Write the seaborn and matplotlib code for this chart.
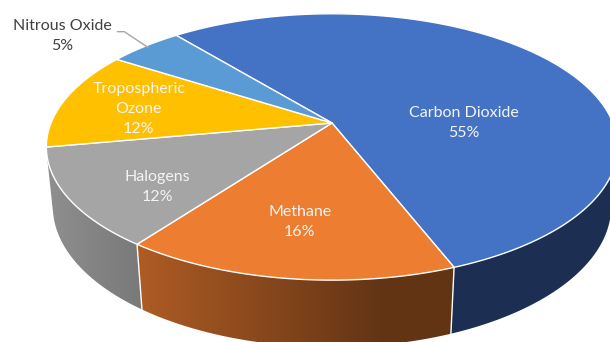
import numpy as np
import matplotlib
matplotlib.use("Agg")
import matplotlib.pyplot as plt
from matplotlib.patches import Polygon
import seaborn as sns

# Greenhouse gas shares
gases = ["Carbon Dioxide", "Methane", "Halogens", "Tropospheric\nOzone", "Nitrous Oxide"]
shares = [55, 16, 12, 12, 5]
top_colors = ["#4472C4", "#ED7D31", "#A5A5A5", "#FFC000", "#5B9BD5"]

sns.set_theme(style="white")
plt.rcParams["font.family"] = ["Lato", "DejaVu Sans"]

# 3-D view settings (world units: pie radius = 1)
elev = np.radians(27.3)
cam_dist = 4.94
thickness = 0.24
start_deg = -39.2          # clockwise from the back of the pie
scale = 1388.0
cx, cy = 332.0, 123.0
s_e, c_e = np.sin(elev), np.cos(elev)


def project(phi_deg, r=1.0, z=0.0):
    phi = np.radians(phi_deg)
    X = r * np.sin(phi)
    Y = r * np.cos(phi)
    depth = cam_dist + Y * c_e - z * s_e
    sx = X / depth
    sy = (Y * s_e + z * c_e) / depth
    return cx + scale * sx, cy - scale * sy


def shade(phi_deg):
    return 0.42 + 0.45 * np.maximum(0.0, np.cos(np.radians(phi_deg - 262.0)))


fig = plt.figure(figsize=(6.1, 3.42), dpi=100)
ax = fig.add_axes([0, 0, 1, 1])

bounds = start_deg + np.concatenate([[0], np.cumsum(shares)]) * 3.6

# side wall: only the arc facing the camera
limit = -1.0 / (cam_dist * c_e)
vis_lo = np.degrees(np.arccos(limit))          # ~103 deg
vis_hi = 360.0 - vis_lo                         # ~257 deg

# screen-x -> lighting lookup along the front rim
rim_angles = np.linspace(vis_lo, vis_hi, 600)
rim_x = np.array([project(a, z=-thickness / 2)[0] for a in rim_angles])
order = np.argsort(rim_x)
rim_x_sorted = rim_x[order]
rim_shade = shade(rim_angles)[order]

for i, col in enumerate(top_colors):
    lo = max(bounds[i], vis_lo)
    hi = min(bounds[i + 1], vis_hi)
    if hi <= lo:
        continue
    angs = np.linspace(lo, hi, 300)
    top = [project(a) for a in angs]
    bot = [project(a, z=-thickness) for a in angs[::-1]]
    poly = Polygon(top + bot, closed=True, facecolor="none", edgecolor="none")
    ax.add_patch(poly)
    xs = [p[0] for p in top + bot]
    ys = [p[1] for p in top + bot]
    x0, x1 = min(xs), max(xs)
    y0, y1 = min(ys), max(ys)
    cols_x = np.linspace(x0, x1, 400)
    f = np.interp(cols_x, rim_x_sorted, rim_shade)
    base = np.array(matplotlib.colors.to_rgb(col))
    img = np.clip(f[None, :, None] * base[None, None, :], 0, 1)
    im = ax.imshow(img, extent=(x0 - 1, x1 + 1, y1 + 1, y0 - 1), aspect="auto",
                   interpolation="bilinear", zorder=1)
    im.set_clip_path(poly)

# white seams where slices meet on the side wall
for b in bounds:
    if vis_lo < b < vis_hi:
        t = project(b)
        bt = project(b, z=-thickness)
        ax.plot([t[0], bt[0]], [t[1], bt[1]], color="white", lw=1.0, zorder=2)

# top face
centre = project(0, r=0.0)
for i, col in enumerate(top_colors):
    angs = np.linspace(bounds[i], bounds[i + 1], 200)
    pts = [centre] + [project(a) for a in angs]
    ax.add_patch(Polygon(pts, closed=True, facecolor=col, edgecolor="white",
                         lw=1.0, joinstyle="round", zorder=3))

# labels inside the slices: (angle, radius) on the top face
label_pos = [(90.0, 0.47), (188.5, 0.68), (231.6, 0.73), (279.0, 0.71)]
for i, (ang, rad) in enumerate(label_pos):
    x, y = project(ang, r=rad)
    ax.text(x, y, f"{gases[i]}\n{shares[i]}%", ha="center", va="center",
            fontsize=11.5, color="#F4F4F4", linespacing=1.55, zorder=5)

# outside label with leader line for the smallest slice
mid = 0.5 * (bounds[-2] + bounds[-1])
ex, ey = project(mid, r=0.98)
ax.plot([ex - 31, ex - 24, ex], [ey - 16, ey - 16, ey], color="#A6A6A6",
        lw=1.0, zorder=5)
ax.text(ex - 86, ey - 12, f"{gases[-1]}\n{shares[-1]}%", ha="center",
        va="center", fontsize=11.5, color="#404040", linespacing=1.55, zorder=5)

ax.set_xlim(0, 610)
ax.set_ylim(342, 0)
ax.axis("off")

fig.savefig("out.png", dpi=100)
